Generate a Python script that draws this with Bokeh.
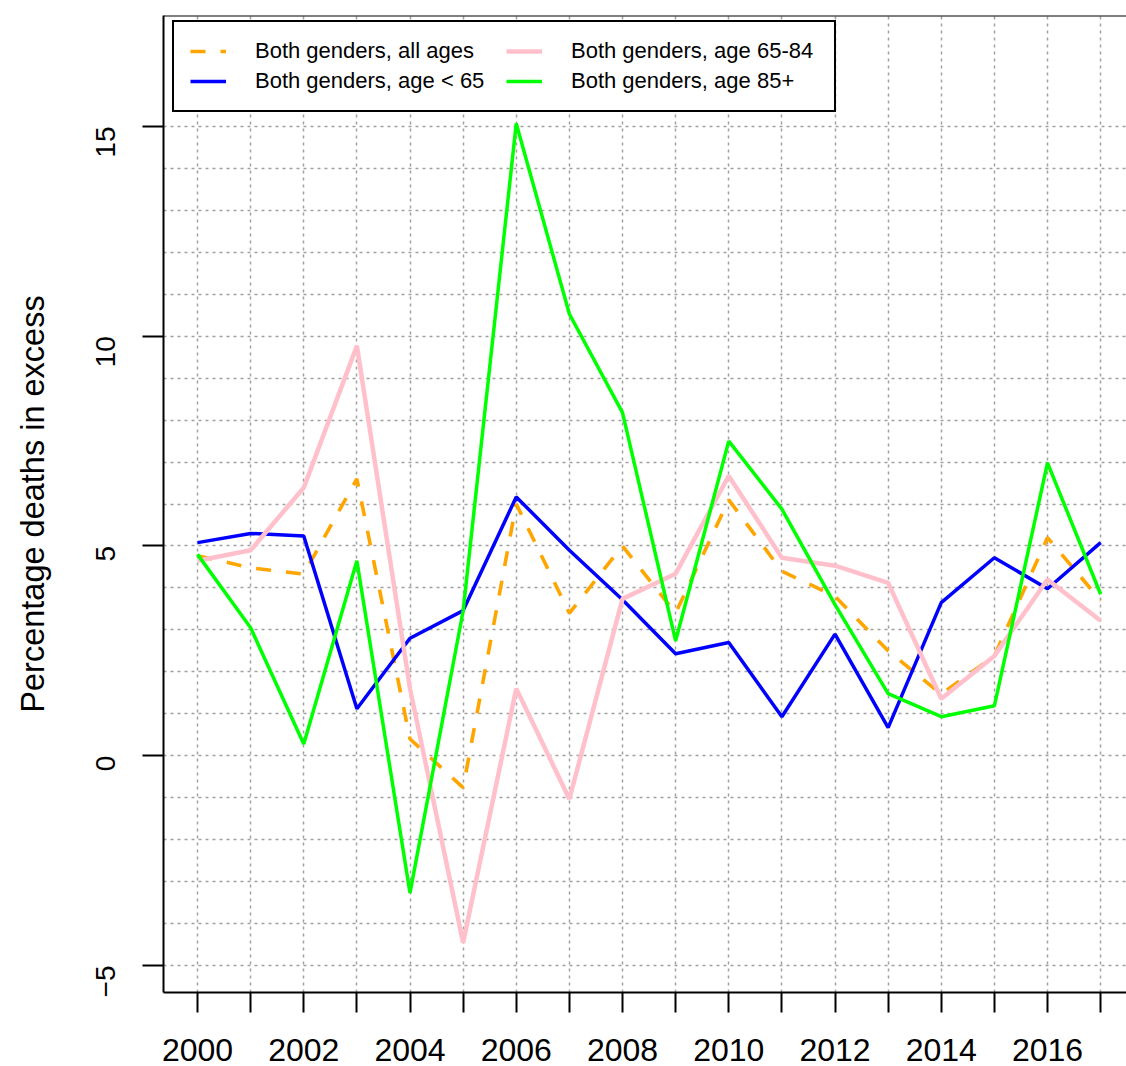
import math
from bokeh.plotting import figure
from bokeh.models import Range1d, FixedTicker, Legend, LegendItem, Span
from bokeh.embed import file_html
from bokeh.resources import INLINE

years = list(range(2000, 2018))
all_ages = [4.77, 4.48, 4.33, 6.6, 0.4, -0.76, 6.0, 3.4, 5.0, 3.4, 6.1, 4.4, 3.8, 2.5, 1.47, 2.38, 5.2, 3.7]
under_65 = [5.08, 5.3, 5.24, 1.12, 2.8, 3.46, 6.17, 4.9, 3.72, 2.43, 2.7, 0.93, 2.9, 0.67, 3.65, 4.72, 3.98, 5.08]
age_65_84 = [4.65, 4.9, 6.39, 9.77, 1.6, -4.46, 1.6, -1.03, 3.74, 4.34, 6.67, 4.72, 4.53, 4.12, 1.36, 2.38, 4.2, 3.22]
age_85 = [4.8, 3.05, 0.28, 4.65, -3.27, 3.45, 15.07, 10.53, 8.18, 2.74, 7.5, 5.88, 3.6, 1.48, 0.93, 1.19, 6.98, 3.85]

labels = ["Both genders, all ages", "Both genders, age < 65",
          "Both genders, age 65-84", "Both genders, age 85+"]
x_label_ticks = [2000, 2002, 2004, 2006, 2008, 2010, 2012, 2014, 2016]
x_minor_ticks = [2001, 2003, 2005, 2007, 2009, 2011, 2013, 2015, 2017]
y_ticks = [-5, 0, 5, 10, 15]

FONT = "Liberation Sans"
Y_TOP = 17.646

p = figure(width=1126, height=1066,
           x_range=Range1d(1999.36, 2017.487), y_range=Range1d(-5.644, Y_TOP),
           output_backend="svg", toolbar_location=None,
           min_border_left=163, min_border_right=0, min_border_top=15, min_border_bottom=74)
p.outline_line_color = None
p.background_fill_color = "white"

# axes
p.xaxis.ticker = FixedTicker(ticks=x_label_ticks, minor_ticks=x_minor_ticks)
p.yaxis.ticker = FixedTicker(ticks=y_ticks)
for ax in (p.xaxis[0], p.yaxis[0]):
    ax.axis_line_width = 2
    ax.axis_line_color = "black"
    ax.major_tick_line_width = 2
    ax.major_tick_line_color = "black"
    ax.major_tick_in = 0
    ax.major_label_text_font = FONT
    ax.major_label_text_color = "black"
p.xaxis.major_tick_out = 20
p.xaxis.minor_tick_out = 20
p.xaxis.minor_tick_in = 0
p.xaxis.minor_tick_line_width = 2
p.xaxis.minor_tick_line_color = "black"
p.xaxis.major_label_text_font_size = "32px"
p.xaxis.major_label_standoff = 26

p.yaxis.major_tick_out = 21
p.yaxis.minor_tick_line_color = None
p.yaxis.major_label_orientation = math.pi / 2
p.yaxis.major_label_text_font_size = "28px"
p.yaxis.major_label_standoff = 37
p.yaxis.axis_label = "Percentage deaths in excess"
p.yaxis.axis_label_text_font = FONT
p.yaxis.axis_label_text_font_size = "32.5px"
p.yaxis.axis_label_text_font_style = "normal"
p.yaxis.axis_label_text_color = "black"
p.yaxis.axis_label_standoff = 33

# grid
p.xgrid.ticker = FixedTicker(ticks=years)
p.ygrid.ticker = FixedTicker(ticks=list(range(-5, 16)))
for g in (p.xgrid[0], p.ygrid[0]):
    g.grid_line_color = "#a0a0a0"
    g.grid_line_width = 1.5
    g.grid_line_dash = "3 4"

# top border
p.add_layout(Span(location=Y_TOP, dimension="width", line_color="black", line_width=2))

r_all = p.line(years, all_ages, line_color="#FFA500", line_width=3.6, line_dash="15 15")
r_u65 = p.line(years, under_65, line_color="#0000FF", line_width=3.5)
r_mid = p.line(years, age_65_84, line_color="#FFC0CB", line_width=4.5)
r_85 = p.line(years, age_85, line_color="#00FF00", line_width=3.5)

legend = Legend(items=[LegendItem(label=labels[0], renderers=[r_all]),
                       LegendItem(label=labels[1], renderers=[r_u65]),
                       LegendItem(label=labels[2], renderers=[r_mid]),
                       LegendItem(label=labels[3], renderers=[r_85])],
                location=(9, 880), ncols=2)
legend.label_text_font = FONT
legend.label_text_font_size = "22px"
legend.label_text_color = "black"
legend.label_width = 247
legend.glyph_width = 36
legend.glyph_height = 20
legend.label_standoff = 29
legend.spacing = 4
legend.padding = 16
legend.margin = 0
legend.border_line_color = "black"
legend.border_line_alpha = 1
legend.border_line_width = 2.5
legend.background_fill_color = "white"
legend.background_fill_alpha = 1
p.add_layout(legend)

open("out.html", "w").write(file_html(p, INLINE))
